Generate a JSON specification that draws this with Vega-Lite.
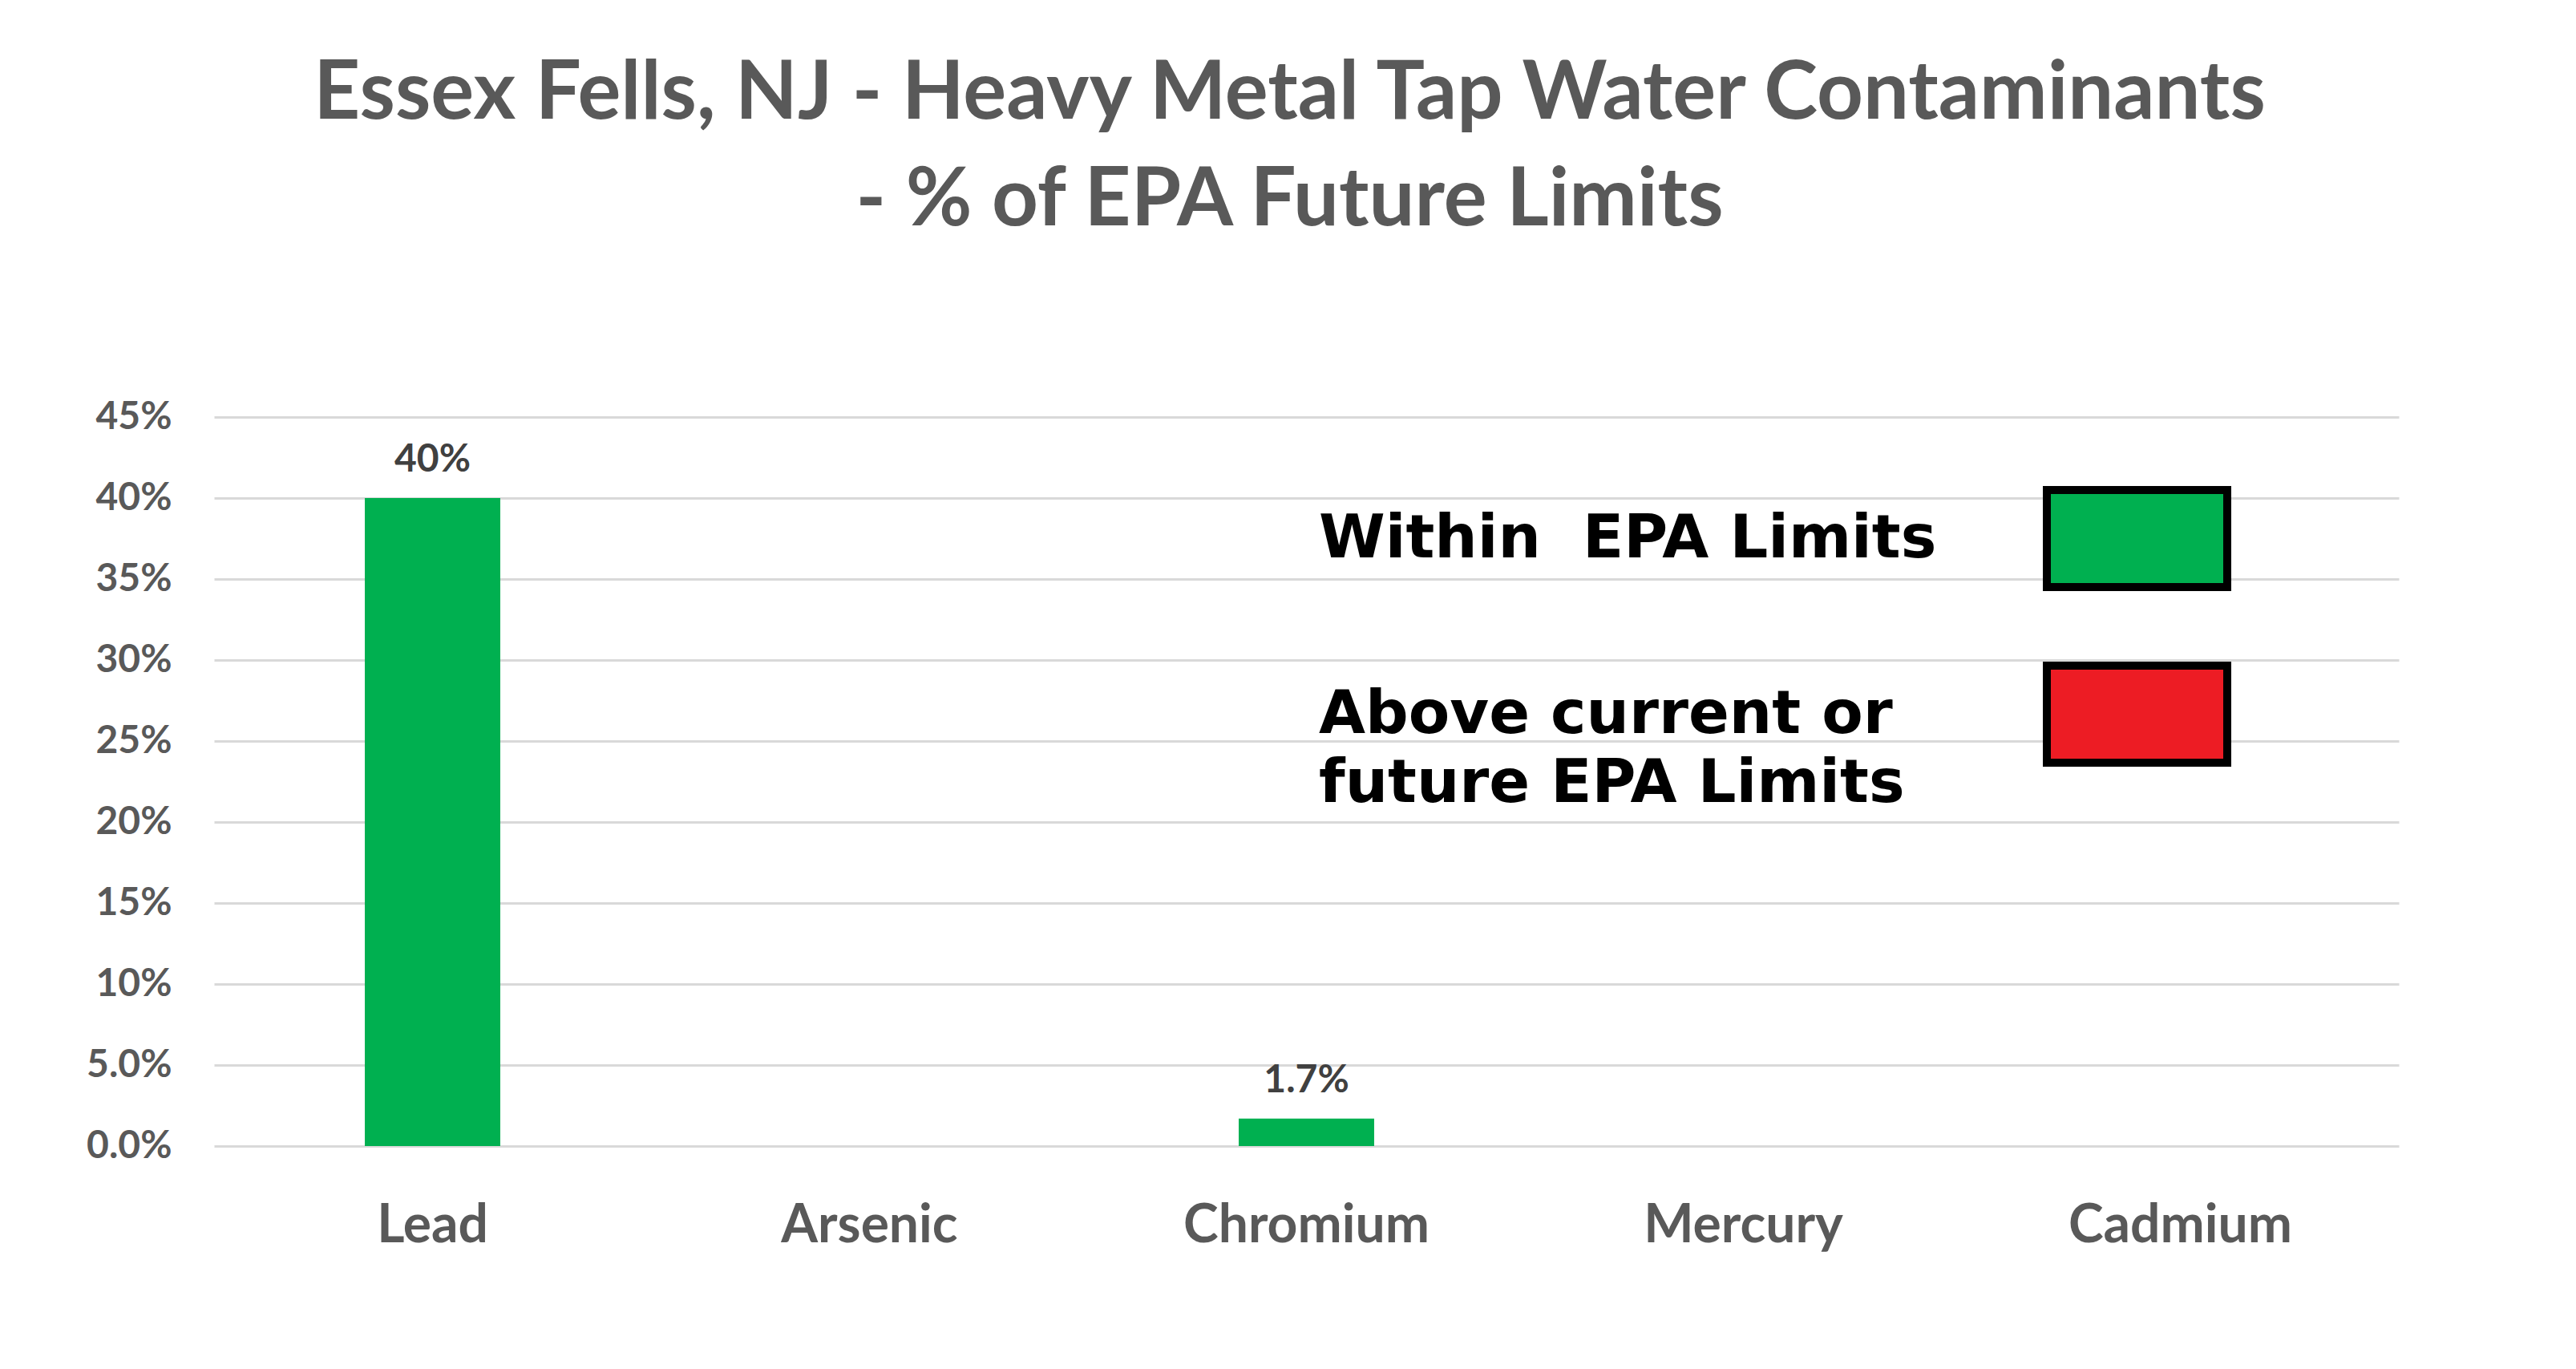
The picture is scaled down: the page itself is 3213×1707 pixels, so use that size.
{
  "$schema": "https://vega.github.io/schema/vega-lite/v6.json",
  "width": 2725,
  "height": 909,
  "autosize": "none",
  "padding": {"left": 267, "top": 520, "right": 221, "bottom": 278},
  "background": "white",
  "title": {
    "text": ["Essex Fells, NJ - Heavy Metal Tap Water Contaminants", "- % of EPA Future Limits"],
    "font": "Lato",
    "fontSize": 101,
    "fontWeight": "bold",
    "color": "#595959",
    "lineHeight": 133,
    "baseline": "bottom",
    "offset": 93,
    "dx": -21
  },
  "data": {
    "values": [
      {"metal": "Lead", "value": 0.40, "status": "Within EPA Limits"},
      {"metal": "Arsenic", "value": null, "status": "Within EPA Limits"},
      {"metal": "Chromium", "value": 0.017, "status": "Within EPA Limits"},
      {"metal": "Mercury", "value": null, "status": "Within EPA Limits"},
      {"metal": "Cadmium", "value": null, "status": "Within EPA Limits"}
    ]
  },
  "encoding": {
    "x": {
      "field": "metal",
      "type": "nominal",
      "sort": null,
      "scale": {
        "domain": ["Lead", "Arsenic", "Chromium", "Mercury", "Cadmium"],
        "paddingInner": 0.69,
        "paddingOuter": 0.345
      },
      "axis": {
        "title": null,
        "labelAngle": 0,
        "labelFont": "Lato",
        "labelFontSize": 66,
        "labelFontWeight": "bold",
        "labelColor": "#595959",
        "labelBaseline": "alphabetic",
        "labelPadding": 119,
        "labelLimit": 1000,
        "ticks": false,
        "tickSize": 0,
        "domain": false,
        "grid": false
      }
    },
    "y": {
      "field": "value",
      "type": "quantitative",
      "scale": {"domain": [0, 0.45], "nice": false},
      "axis": {
        "title": null,
        "values": [0, 0.05, 0.1, 0.15, 0.2, 0.25, 0.3, 0.35, 0.4, 0.45],
        "labelExpr": "datum.value < 0.1 ? format(datum.value, '.1%') : format(datum.value, '.0%')",
        "labelFont": "Lato",
        "labelFontSize": 48,
        "labelFontWeight": "bold",
        "labelColor": "#595959",
        "labelPadding": 53,
        "labelBaseline": "middle",
        "ticks": false,
        "tickSize": 0,
        "domain": false,
        "grid": true,
        "gridColor": "#D9D9D9",
        "gridWidth": 3
      }
    }
  },
  "layer": [
    {
      "mark": {"type": "bar", "color": "#00B050"},
      "encoding": {
        "color": {
          "field": "status",
          "type": "nominal",
          "scale": {
            "domain": ["Within EPA Limits", "Above current or future EPA Limits"],
            "range": ["#00B050", "#ED1C24"]
          },
          "legend": {
            "title": null,
            "orient": "none",
            "legendX": 2281,
            "legendY": 34,
            "direction": "vertical",
            "padding": 0,
            "offset": 0,
            "symbolType": "M-1,-0.538L1,-0.538L1,0.538L-1,0.538Z",
            "symbolSize": 50625,
            "symbolStrokeWidth": 10,
            "symbolStrokeColor": "black",
            "symbolOpacity": 1,
            "labelFont": "DejaVu Sans",
            "labelFontSize": 75,
            "labelFontWeight": "bold",
            "labelColor": "black",
            "labelLimit": 2000,
            "labelAlign": "left",
            "labelBaseline": "middle",
            "labelOffset": -1138,
            "rowPadding": 20,
            "labelExpr": "datum.label == 'Above current or future EPA Limits' ? ['Above current or', 'future EPA Limits'] : 'Within\u00a0 EPA Limits'",
            "encode": {
              "symbols": {
                "update": {
                  "fill": {"signal": "datum.value == 'Within EPA Limits' ? '#22B14C' : '#ED1C24'"},
                  "stroke": {"value": "black"},
                  "strokeWidth": {"value": 10},
                  "opacity": {"value": 1}
                }
              },
              "labels": {
                "update": {"lineHeight": {"value": 86}}
              }
            }
          }
        }
      }
    },
    {
      "mark": {
        "type": "text",
        "font": "Lato",
        "fontSize": 48,
        "fontWeight": "bold",
        "color": "#404040",
        "baseline": "alphabetic",
        "dy": -33
      },
      "encoding": {
        "text": {
          "condition": {"test": "datum.value < 0.1", "field": "value", "format": ".1%"},
          "field": "value",
          "format": ".0%"
        }
      }
    }
  ],
  "config": {
    "view": {"stroke": null}
  }
}
